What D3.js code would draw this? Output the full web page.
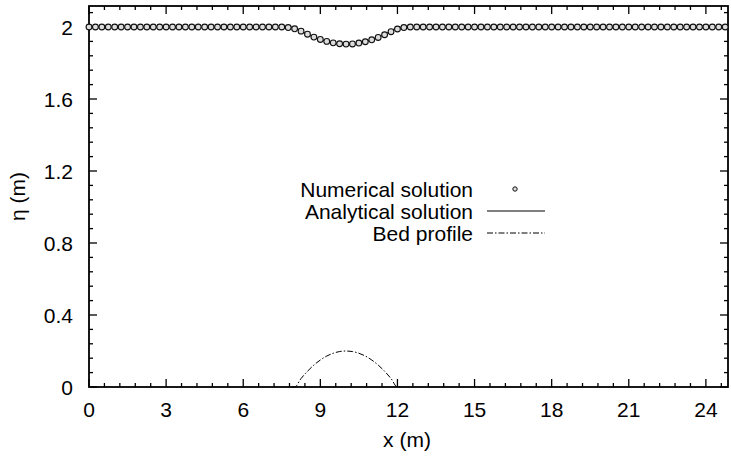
<!DOCTYPE html>
<html>
<head>
<meta charset="utf-8">
<script src="https://cdn.jsdelivr.net/npm/d3@7"></script>
<style>
  html, body { margin: 0; padding: 0; background: #fff; }
  svg { display: block; }
  text { font-family: "Liberation Sans", Arial, Helvetica, sans-serif; fill: #000; }
</style>
</head>
<body>
<script>
// ---- data ----
const numStep = 0.25; // spacing of numerical cells (m)
const numEta = [
  2.0,2.0,2.0,2.0,2.0,2.0,2.0,2.0,2.0,2.0,
  2.0,2.0,2.0,2.0,2.0,2.0,2.0,2.0,2.0,2.0,
  2.0,2.0,2.0,2.0,2.0,2.0,2.0,2.0,2.0,2.0,
  2.0,
  1.997,1.99,1.977,1.96,1.944,1.931,1.92,1.912,1.907,1.905,
  1.906,1.911,1.918,1.929,1.942,1.957,1.974,1.989,1.997,
  2.0,2.0,2.0,2.0,2.0,2.0,2.0,2.0,2.0,2.0,
  2.0,2.0,2.0,2.0,2.0,2.0,2.0,2.0,2.0,2.0,
  2.0,2.0,2.0,2.0,2.0,2.0,2.0,2.0,2.0,2.0,
  2.0,2.0,2.0,2.0,2.0,2.0,2.0,2.0,2.0,2.0,
  2.0,2.0,2.0,2.0,2.0,2.0,2.0,2.0,2.0,2.0
];
const anaX   = [0, 7.75, 8, 8.25, 8.5, 8.75, 9, 9.25, 9.5, 9.75, 10, 10.25, 10.5, 10.75, 11, 11.25, 11.5, 11.75, 12, 12.25, 24.86];
const anaEta = [2.0, 2.0, 1.998, 1.978, 1.959, 1.943, 1.93, 1.919, 1.912, 1.907, 1.905, 1.907, 1.912, 1.919, 1.93, 1.943, 1.959, 1.978, 1.998, 2.0, 2.0];
const bedX   = [7.9, 8, 8.25, 8.5, 8.75, 9, 9.25, 9.5, 9.75, 10, 10.25, 10.5, 10.75, 11, 11.25, 11.5, 11.75, 12, 12.1];
const bedZ   = [0, 0, 0.047, 0.0875, 0.122, 0.15, 0.172, 0.1875, 0.197, 0.2, 0.197, 0.1875, 0.172, 0.15, 0.122, 0.0875, 0.047, 0, 0];
const xTicks = [0, 3, 6, 9, 12, 15, 18, 21, 24];
const yTicks = [0, 0.4, 0.8, 1.2, 1.6, 2];
const yTickLabels = ["0", "0.4", "0.8", "1.2", "1.6", "2"];
const legendLabels = ["Numerical solution", "Analytical solution", "Bed profile"];

// ---- layout ----
const W = 731, H = 456;
const mLeft = 89, mRight = 728, mTop = 6, mBottom = 387;

const svg = d3.select("body").append("svg").attr("width", W).attr("height", H);

const x = d3.scaleLinear().domain([0, 24.86]).range([mLeft, mRight]);
const y = d3.scaleLinear().domain([0, 2.1167]).range([mBottom, mTop]);

const FS = 21;

// minor ticks
const xMinor = d3.range(0, 24.86, 0.6).filter(v => Math.abs(v / 3 - Math.round(v / 3)) > 1e-6);
const yMinor = d3.range(0, 2.12, 0.08).filter(v => Math.abs(v / 0.4 - Math.round(v / 0.4)) > 1e-6);

const g = svg.append("g").attr("stroke", "#000").attr("stroke-width", 1.3);
xTicks.forEach(v => {
  g.append("line").attr("x1", x(v)).attr("x2", x(v)).attr("y1", mBottom).attr("y2", mBottom - 8);
  g.append("line").attr("x1", x(v)).attr("x2", x(v)).attr("y1", mTop).attr("y2", mTop + 8);
});
xMinor.forEach(v => {
  g.append("line").attr("x1", x(v)).attr("x2", x(v)).attr("y1", mBottom).attr("y2", mBottom - 4);
  g.append("line").attr("x1", x(v)).attr("x2", x(v)).attr("y1", mTop).attr("y2", mTop + 4);
});
yTicks.forEach(v => {
  g.append("line").attr("y1", y(v)).attr("y2", y(v)).attr("x1", mLeft).attr("x2", mLeft + 8);
  g.append("line").attr("y1", y(v)).attr("y2", y(v)).attr("x1", mRight).attr("x2", mRight - 8);
});
yMinor.forEach(v => {
  g.append("line").attr("y1", y(v)).attr("y2", y(v)).attr("x1", mLeft).attr("x2", mLeft + 4);
  g.append("line").attr("y1", y(v)).attr("y2", y(v)).attr("x1", mRight).attr("x2", mRight - 4);
});

// frame
svg.append("rect").attr("x", mLeft).attr("y", mTop).attr("width", mRight - mLeft).attr("height", mBottom - mTop)
  .attr("fill", "none").attr("stroke", "#000").attr("stroke-width", 1.8);

// tick labels
xTicks.forEach(v => {
  svg.append("text").attr("x", x(v)).attr("y", mBottom + 30).attr("text-anchor", "middle")
    .attr("font-size", FS).text(String(v));
});
yTicks.forEach((v, i) => {
  svg.append("text").attr("x", 73).attr("y", y(v) + 7.5).attr("text-anchor", "end")
    .attr("font-size", FS).text(yTickLabels[i]);
});

// axis titles
svg.append("text").attr("x", 407).attr("y", 447).attr("text-anchor", "middle").attr("font-size", FS).text("x (m)");
svg.append("text").attr("transform", `translate(25,${(mTop + mBottom) / 2}) rotate(-90)`)
  .attr("text-anchor", "middle").attr("font-size", FS).text("η (m)");

// bed profile
svg.append("path")
  .datum(bedX.map((v, i) => [v, bedZ[i]]))
  .attr("fill", "none").attr("stroke", "#000").attr("stroke-width", 1)
  .attr("stroke-dasharray", "6,2,1.5,2")
  .attr("d", d3.line().x(d => x(d[0])).y(d => y(d[1])).curve(d3.curveMonotoneX));

// analytical
svg.append("path")
  .datum(anaX.map((v, i) => [v, anaEta[i]]))
  .attr("fill", "none").attr("stroke", "#000").attr("stroke-width", 1)
  .attr("d", d3.line().x(d => x(d[0])).y(d => y(d[1])).curve(d3.curveMonotoneX));

// numerical points
svg.append("g").selectAll("circle").data(numEta).join("circle")
  .attr("cx", (d, i) => x(i * numStep)).attr("cy", d => y(d)).attr("r", 2.9)
  .attr("fill", "#ddd").attr("stroke", "#111").attr("stroke-width", 1.1);

// legend
const lgRight = 473, lgY = [189, 211, 233];
legendLabels.forEach((t, i) => {
  svg.append("text").attr("x", lgRight).attr("y", lgY[i] + 7.5).attr("text-anchor", "end")
    .attr("font-size", FS).text(t);
});
svg.append("circle").attr("cx", 515).attr("cy", lgY[0]).attr("r", 2.2)
  .attr("fill", "#ddd").attr("stroke", "#111").attr("stroke-width", 1);
svg.append("line").attr("x1", 487).attr("x2", 545).attr("y1", lgY[1]).attr("y2", lgY[1])
  .attr("stroke", "#000").attr("stroke-width", 1);
svg.append("line").attr("x1", 487).attr("x2", 545).attr("y1", lgY[2]).attr("y2", lgY[2])
  .attr("stroke", "#000").attr("stroke-width", 1).attr("stroke-dasharray", "6,2,1.5,2");
</script>
</body>
</html>
